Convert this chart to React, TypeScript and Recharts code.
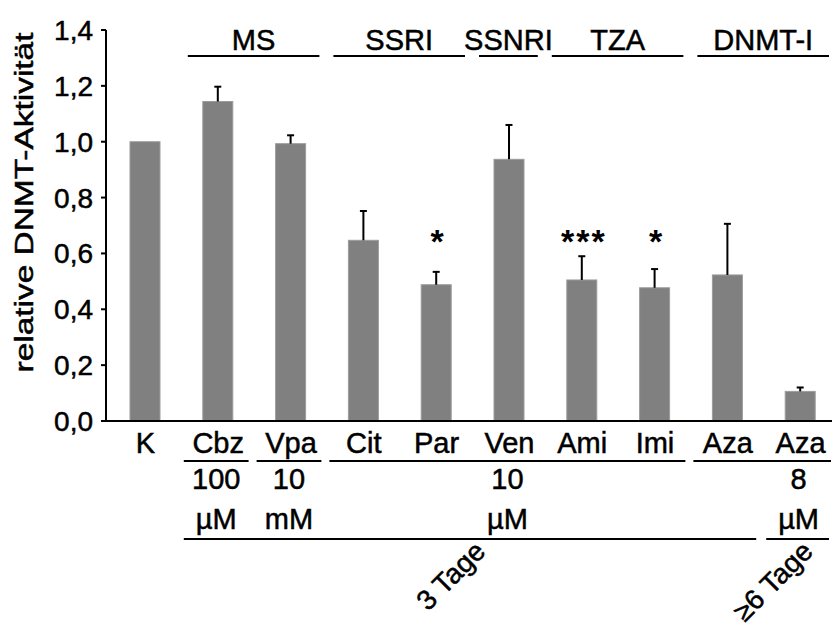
import { BarChart, Bar, XAxis, YAxis, Label } from 'recharts';

// DNMT activity relative to control (K), mean with SEM
const drugs = ['K', 'Cbz', 'Vpa', 'Cit', 'Par', 'Ven', 'Ami', 'Imi', 'Aza', 'Aza'];
const activity = [1.0, 1.144, 0.993, 0.647, 0.488, 0.937, 0.505, 0.477, 0.523, 0.106];
const sem = [0, 0.053, 0.03, 0.105, 0.046, 0.123, 0.085, 0.067, 0.183, 0.014];
const significance = ['', '', '', '', '*', '', '***', '*', '', ''];
const yTicks = [0, 0.2, 0.4, 0.6, 0.8, 1.0, 1.2, 1.4];

// drug classes above the bars
const classGroups = [
  { label: 'MS', from: 1, to: 2 },
  { label: 'SSRI', from: 3, to: 4 },
  { label: 'SSNRI', from: 5, to: 5 },
  { label: 'TZA', from: 6, to: 7 },
  { label: 'DNMT-I', from: 8, to: 9 },
];

// concentrations and treatment time below the axis
const underlineGroups = [
  { from: 1, to: 1 },
  { from: 2, to: 2 },
  { from: 3, to: 7 },
  { from: 8, to: 9 },
];
const doseGroups = [
  { amount: '100', unit: 'µM', from: 1, to: 1 },
  { amount: '10', unit: 'mM', from: 2, to: 2 },
  { amount: '10', unit: 'µM', from: 3, to: 7 },
  { amount: '8', unit: 'µM', from: 9, to: 9 },
];
const durationGroups = [
  { label: '3 Tage', from: 1, to: 8 },
  { label: '≥6 Tage', from: 9, to: 9 },
];

// height at which the significance stars sit
const SIG_LEVEL = 0.6;

const data = drugs.map((name, i) => ({
  id: i,
  name,
  activity: activity[i],
  sem: sem[i],
  sig: significance[i],
}));

const FONT = '"Liberation Sans", Arial, sans-serif';
const CHART_W = 837;
const CHART_H = 630;
const Y_AXIS_W = 106;
const X_PAD_LEFT = 3;
const BAND = (CHART_W - Y_AXIS_W - X_PAD_LEFT) / drugs.length;

const textStyle = {
  fontFamily: FONT,
  fontSize: 29,
  fill: '#000',
  stroke: '#000',
  strokeWidth: 0.5,
};

const BarWithError = (props: any) => {
  const { x, y, width, height, payload } = props;
  const perUnit = height / payload.activity;
  const cx = x + width / 2;
  const errTop = y - payload.sem * perUnit;
  return (
    <g>
      <rect x={x} y={y} width={width} height={height} fill="#808080" stroke="#9c9c9c" strokeWidth={1} />
      {payload.sem > 0 && (
        <g stroke="#000" strokeWidth={2}>
          <line x1={cx} x2={cx} y1={y} y2={errTop} />
          <line x1={cx - 3.5} x2={cx + 3.5} y1={errTop} y2={errTop} />
        </g>
      )}
      {payload.sig && (
        <text
          x={cx + (payload.sig.length > 1 ? 2 : 1)}
          y={y + height - SIG_LEVEL * perUnit}
          textAnchor="middle"
          fontFamily={FONT}
          fontWeight="bold"
          fontSize={34}
          letterSpacing={payload.sig.length > 1 ? 2 : 0}
        >
          {payload.sig}
        </text>
      )}
    </g>
  );
};

const span = (x: number, from: number, to: number, padL = 6, padR = 8) => ({
  x1: x - BAND / 2 + padL,
  x2: x + (to - from) * BAND + BAND / 2 - padR,
});

const CategoryTick = (props: any) => {
  const { x, y, payload } = props;
  const i = Number(payload.value);
  return (
    <g>
      <text x={x} y={y + 32} textAnchor="middle" {...textStyle}>
        {drugs[i]}
      </text>
      {classGroups
        .filter((g) => g.from === i)
        .map((g) => {
          const s = span(x, g.from, g.to);
          return (
            <g key={g.label}>
              <line x1={s.x1} x2={s.x2} y1={y - 365} y2={y - 365} stroke="#000" strokeWidth={2} />
              <text x={(s.x1 + s.x2) / 2} y={y - 371} textAnchor="middle" {...textStyle}>
                {g.label}
              </text>
            </g>
          );
        })}
      {underlineGroups
        .filter((g) => g.from === i)
        .map((g) => {
          const s = span(x, g.from, g.to, 2, 6);
          return <line key={g.from} x1={s.x1} x2={s.x2} y1={y + 40} y2={y + 40} stroke="#000" strokeWidth={2} />;
        })}
      {doseGroups
        .filter((g) => g.from === i)
        .map((g) => {
          const s = span(x, g.from, g.to, 2, 6);
          const mid = (s.x1 + s.x2) / 2;
          return (
            <g key={g.from}>
              <text x={mid} y={y + 68} textAnchor="middle" {...textStyle}>
                {g.amount}
              </text>
              <text x={mid} y={y + 108} textAnchor="middle" {...textStyle}>
                {g.unit}
              </text>
            </g>
          );
        })}
      {durationGroups
        .filter((g) => g.from === i)
        .map((g) => {
          const s = span(x, g.from, g.to, 2, 8);
          const ax = (s.x1 + s.x2) / 2 + 17;
          const ay = y + 132;
          return (
            <g key={g.label}>
              <line x1={s.x1} x2={s.x2} y1={y + 118} y2={y + 118} stroke="#000" strokeWidth={2} />
              <text
                x={ax}
                y={ay}
                textAnchor="end"
                transform={`rotate(-45 ${ax} ${ay})`}
                {...textStyle}
                fontSize={28}
              >
                {g.label}
              </text>
            </g>
          );
        })}
    </g>
  );
};

const AxisTitle = (props: any) => {
  const { viewBox } = props;
  const cx = viewBox.x + 33;
  const cy = viewBox.y + viewBox.height / 2 - 23;
  return (
    <text
      x={cx}
      y={cy}
      textAnchor="middle"
      transform={`rotate(-90 ${cx} ${cy})`}
      fontFamily={FONT}
      fontSize={26}
      textLength={340}
      lengthAdjust="spacingAndGlyphs"
      fill="#000"
      stroke="#000"
      strokeWidth={0.5}
    >
      relative DNMT-Aktivität
    </text>
  );
};

export default function App() {
  return (
    <div
      style={{
        position: 'absolute',
        left: 0,
        top: 0,
        width: 832,
        height: CHART_H,
        overflow: 'hidden',
        background: '#fff',
      }}
    >
      <BarChart
        width={CHART_W}
        height={CHART_H}
        data={data}
        margin={{ top: 30, right: 0, bottom: 0, left: 0 }}
        barCategoryGap={0}
      >
        <XAxis
          dataKey="id"
          type="category"
          height={209}
          interval={0}
          padding={{ left: X_PAD_LEFT, right: 0 }}
          axisLine={{ stroke: '#000', strokeWidth: 2 }}
          tickLine={false}
          tickSize={0}
          tickMargin={0}
          tick={<CategoryTick />}
        />
        <YAxis
          width={Y_AXIS_W}
          domain={[0, 1.4]}
          ticks={yTicks}
          interval={0}
          axisLine={{ stroke: '#000', strokeWidth: 2 }}
          tickLine={{ stroke: '#000', strokeWidth: 2 }}
          tickSize={5}
          tickMargin={8}
          tickFormatter={(v: number) => v.toFixed(1).replace('.', ',')}
          tick={{ fill: '#000', fontSize: 28, fontFamily: FONT, stroke: '#000', strokeWidth: 0.5 }}
        >
          <Label content={<AxisTitle />} />
        </YAxis>
        <Bar dataKey="activity" barSize={30} shape={<BarWithError />} isAnimationActive={false} />
      </BarChart>
    </div>
  );
}
